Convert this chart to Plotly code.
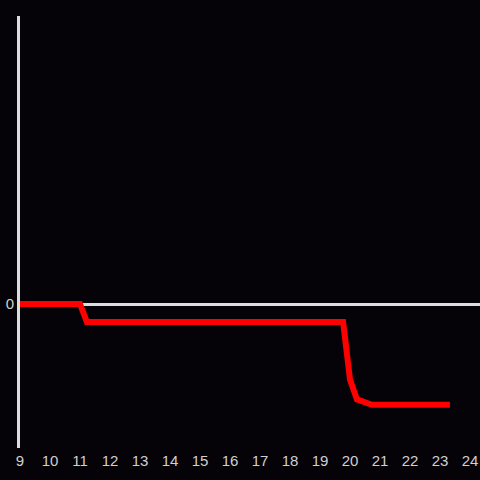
import plotly.graph_objects as go

hours = [9, 11, 11.23, 19.77, 20.0, 20.23, 20.73, 23.33]
values = [0, 0, -1, -1, -4.2, -5.3, -5.6, -5.6]
x_ticks = list(range(9, 25))
y_ticks = [0]

fig = go.Figure(go.Scatter(x=hours, y=values, mode="lines",
                           line=dict(color="#ff0000", width=6), hoverinfo="skip"))
fig.update_layout(
    width=480, height=480,
    paper_bgcolor="#050307", plot_bgcolor="#050307",
    margin=dict(l=20, r=0, t=16, b=32),
    showlegend=False,
    font=dict(family="Liberation Sans, Arial, sans-serif", size=15, color="#d0d0d0"),
)
fig.update_xaxes(range=[9, 24.333], tickvals=x_ticks, ticktext=[str(t) for t in x_ticks],
                 showgrid=False, zeroline=False, showline=False, ticks="", ticklen=0,
                 ticklabelstandoff=2)
fig.update_yaxes(range=[-8, 16], tickvals=y_ticks, ticktext=["0"],
                 showgrid=False, zeroline=True, zerolinecolor="#dddddd", zerolinewidth=3,
                 showline=True, linecolor="#dddddd", linewidth=3, ticks="")
fig.write_html("out.html", config={"displayModeBar": False},
               post_script="document.body.style.margin='0';document.body.style.background='#050307';")
